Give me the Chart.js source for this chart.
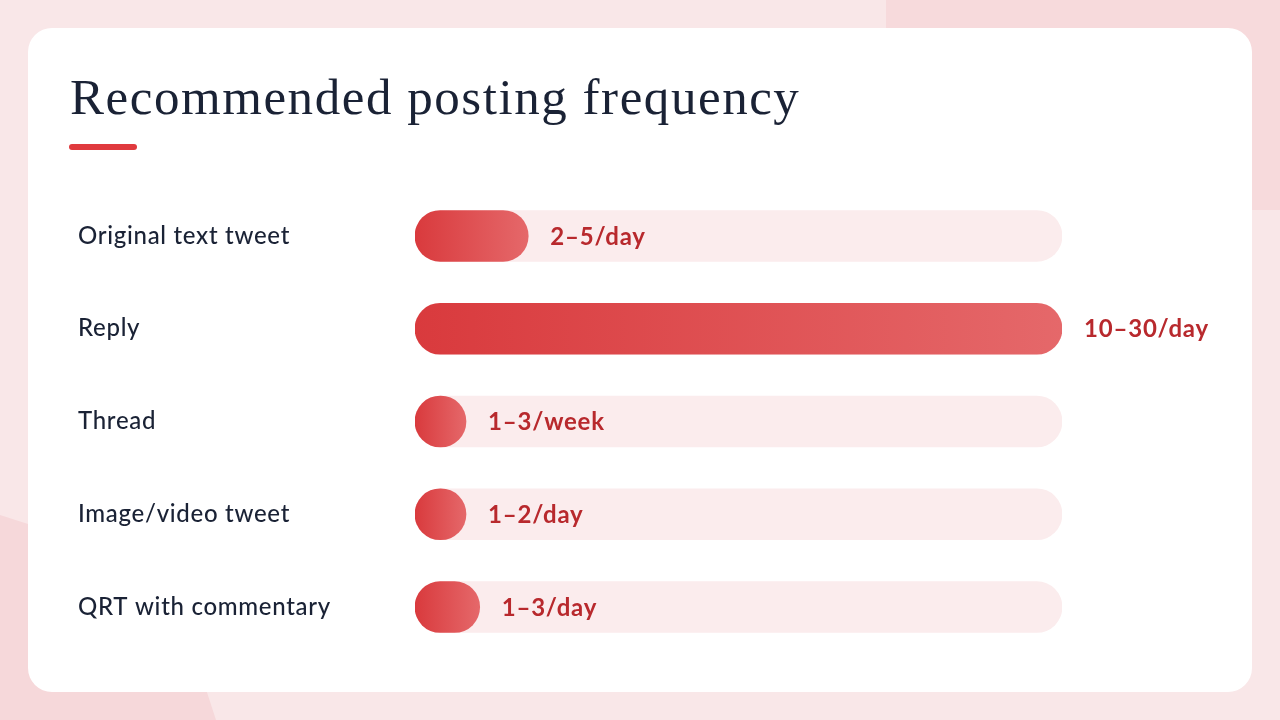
<!DOCTYPE html>
<html><head><meta charset="utf-8">
<script src="https://cdn.jsdelivr.net/npm/chart.js@4"></script>
<style>
html,body{margin:0;padding:0;width:1280px;height:720px;overflow:hidden;background:#f9e7e8;position:relative;}
.blob1{position:absolute;left:886px;top:-40px;width:520px;height:250px;background:#f7dadc;border-radius:0 0 0 60px;}
.blob2{position:absolute;left:0;top:0;width:1280px;height:720px;background:#f6d8da;clip-path:polygon(0 515px,140px 560px,190px 640px,216px 720px,0 720px);}
.card{position:absolute;left:28px;top:28px;width:1224px;height:664px;background:#fff;border-radius:24px;}
h1{position:absolute;left:70px;top:68px;margin:0;font-family:'Liberation Serif',serif;font-weight:400;font-size:51px;line-height:58px;letter-spacing:1.55px;color:#1a2235;white-space:nowrap;}
.rule{position:absolute;left:69px;top:144px;width:68px;height:6px;border-radius:3px;background:#e03a3e;}
canvas{position:absolute;left:0;top:0;}
</style></head>
<body>
<div class="blob1"></div><div class="blob2"></div>
<div class="card"></div>
<h1>Recommended posting frequency</h1>
<div class="rule"></div>
<canvas id="c" width="1280" height="720"></canvas>
<script>
const categories = ['Original text tweet','Reply','Thread','Image/video tweet','QRT with commentary'];
const frequencyLabels = ['2–5/day','10–30/day','1–3/week','1–2/day','1–3/day'];
const postsPerWeek = [24.5, 140, 2, 10.5, 14];
const trackValues = [140, 140, 140, 140, 140];
const axisMax = 140;

const BAR_H = 51;

function minWidthEnd(scale, v){
  const x0 = scale.getPixelForValue(0);
  let x1 = scale.getPixelForValue(v);
  if (x1 - x0 < BAR_H) x1 = x0 + BAR_H;
  return [x0, x1];
}

const spacingPlugin = {
  id:'spacing',
  beforeDraw(chart){ chart.ctx.letterSpacing = '0.7px'; }
};

const minWidthPlugin = {
  id:'minWidth',
  afterDatasetsUpdate(chart){
    const meta = chart.getDatasetMeta(1);
    const sx = chart.scales.x;
    meta.data.forEach((el,i)=>{
      const [x0,x1] = minWidthEnd(sx, postsPerWeek[i]);
      el.x = x1; el.base = x0;
    });
  }
};

const valueLabelPlugin = {
  id:'valueLabels',
  afterDatasetsDraw(chart){
    const ctx = chart.ctx;
    const meta = chart.getDatasetMeta(1);
    ctx.save();
    ctx.letterSpacing = '0.8px';
    ctx.font = '700 24px Lato, "Open Sans", sans-serif';
    ctx.fillStyle = '#b8292d';
    ctx.textAlign = 'left';
    ctx.textBaseline = 'middle';
    meta.data.forEach((el,i)=>{
      ctx.fillText(frequencyLabels[i], el.x + 22, el.y + 1);
    });
    ctx.restore();
  }
};

new Chart(document.getElementById('c'), {
  type:'bar',
  data:{
    labels: categories,
    datasets:[
      {data: trackValues, backgroundColor:'#fbeced', borderRadius:26, borderSkipped:false, barThickness:BAR_H, grouped:false, order:2},
      {data: postsPerWeek, borderRadius:26, borderSkipped:false, barThickness:BAR_H, grouped:false, order:1,
       backgroundColor:(c)=>{
         const chart=c.chart; const sx=chart.scales.x;
         if(!sx || c.dataIndex===undefined || !chart.chartArea) return '#de4a4d';
         const [x0,x1]=minWidthEnd(sx, postsPerWeek[c.dataIndex]);
         const g=chart.ctx.createLinearGradient(x0,0,x1,0);
         g.addColorStop(0,'#d93a3d'); g.addColorStop(1,'#e5686a');
         return g;
       }}
    ]
  },
  options:{
    indexAxis:'y',
    responsive:false,
    animation:false,
    events:[],
    layout:{padding:{left:78,right:218,top:189.6,bottom:66.6}},
    plugins:{legend:{display:false},tooltip:{enabled:false}},
    scales:{
      x:{display:false,min:0,max:axisMax},
      y:{
        grid:{display:false},border:{display:false},
        ticks:{color:'#1a2235',font:{family:'Lato, "Open Sans", sans-serif',size:24,weight:'500'},crossAlign:'far',padding:0},
        afterFit(s){ s.width = 337; }
      }
    }
  },
  plugins:[spacingPlugin, minWidthPlugin, valueLabelPlugin]
});
</script>
</body></html>
